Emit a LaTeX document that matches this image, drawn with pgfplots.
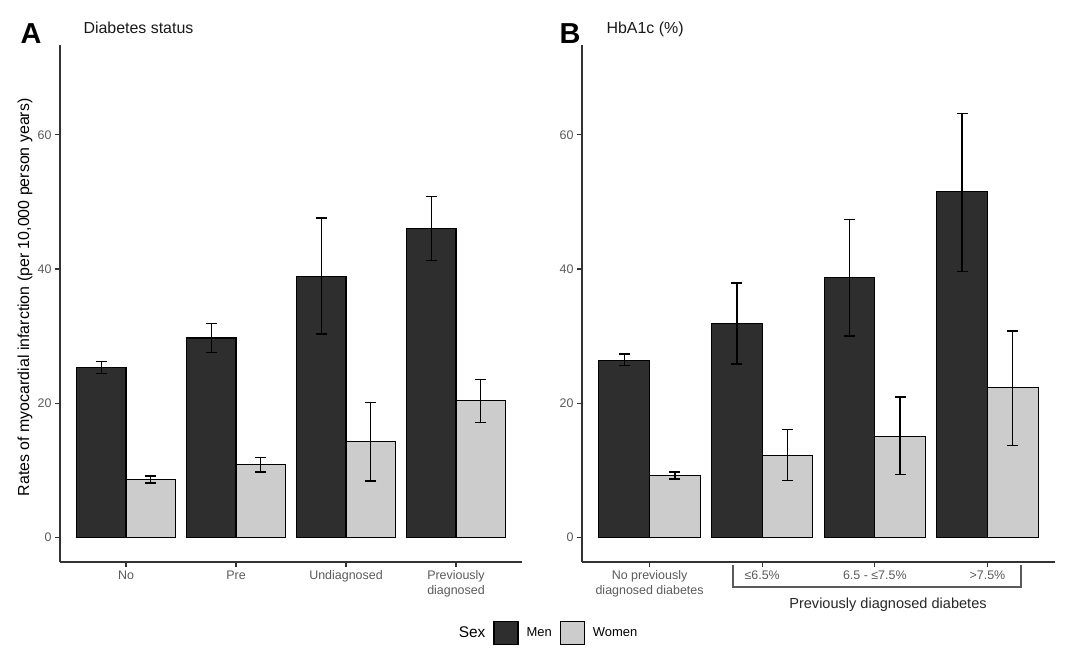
\documentclass[border=0pt]{standalone}
\usepackage{pgfplots}
\pgfplotsset{compat=1.18}
\usepackage{pgfplotstable}
\usepackage{fontspec}
\setmainfont{Liberation Sans}
\definecolor{menc}{HTML}{2E2E2E}
\definecolor{womenc}{HTML}{CCCCCC}
\definecolor{axc}{HTML}{333333}
\definecolor{tickc}{HTML}{5A5A5A}

\pgfplotstableread{
x y ep em
0.775 25.3 0.9 0.9
1.775 29.7 2.2 2.2
2.775 38.9 8.7 8.6
3.775 46.0 4.8 4.7
}\leftmen
\pgfplotstableread{
x y ep em
1.225 8.6 0.5 0.5
2.225 10.9 1.0 1.15
3.225 14.3 5.8 5.9
4.225 20.4 3.1 3.3
}\leftwomen
\pgfplotstableread{
x y ep em
0.775 26.4 0.9 0.8
1.775 31.9 6.0 6.1
2.775 38.7 8.7 8.7
3.775 51.5 11.7 11.9
}\rightmen
\pgfplotstableread{
x y ep em
1.225 9.25 0.5 0.55
2.225 12.2 3.9 3.75
3.225 15.0 5.9 5.65
4.225 22.3 8.45 8.6
}\rightwomen

\pgfplotsset{
  panel/.style={
    scale only axis,
    height=517bp,
    xmin=0.4, xmax=4.6,
    ymin=-3.7, ymax=73.4,
    axis x line*=bottom, axis y line*=left,
    axis line style={-, color=axc, line width=1.3bp},
    tick style={color=axc, line width=1.1bp},
    tick align=outside,
    major tick length=5bp,
    xtick={1,2,3,4}, ytick={0,20,40,60},
    /pgf/number format/assume math mode=true,
    ticklabel style={font=\fontsize{12.5}{15}\selectfont, text=tickc},
    xticklabel style={align=center},
    clip=false,
  },
  barstyle/.style={
    ybar, bar width=0.45, bar shift=0pt,
    draw=black, line width=1.1bp,
    /pgfplots/error bars/y dir=both,
    /pgfplots/error bars/y explicit,
    /pgfplots/error bars/error bar style={line width=1.4bp, black},
    /pgfplots/error bars/error mark options={rotate=90, mark size=5.5bp, line width=1.4bp, black},
  },
  legimg/.style={
    legend image code/.code={\draw[##1, line width=1.1bp] (0bp,-11.5bp) rectangle (24bp,11.5bp);}
  },
}

\begin{document}
\begin{tikzpicture}
\path[use as bounding box] (0bp,0bp) rectangle (1080bp,-656bp);

\begin{axis}[panel,
  at={(60bp,-562bp)}, anchor=south west,
  width=462bp,
  xticklabels={No,Pre,Undiagnosed,{Previously\\diagnosed}},
  ylabel={Rates of myocardial infarction (per 10,000 person years)},
  ylabel style={font=\fontsize{16}{19}\selectfont, at={(axis description cs:-0.0758,0.512)}, anchor=center},
  legend columns=3,
  legend style={draw=none, fill=none, at={(1.0498,-0.1373)}, anchor=center,
    /tikz/every odd column/.append style={column sep=6bp},
    /tikz/every even column/.append style={column sep=6bp},
    nodes={inner xsep=2bp, inner ysep=0bp}},
]
\addlegendimage{empty legend}
\addlegendentry{\fontsize{15.5}{18}\selectfont Sex}
\addplot[barstyle, fill=menc, legimg] table[x=x, y=y, y error plus=ep, y error minus=em] {\leftmen};
\addlegendentry{\fontsize{13}{15}\selectfont Men}
\addplot[barstyle, fill=womenc, legimg] table[x=x, y=y, y error plus=ep, y error minus=em] {\leftwomen};
\addlegendentry{\fontsize{13}{15}\selectfont Women}
\end{axis}

\begin{axis}[panel,
  at={(582bp,-562bp)}, anchor=south west,
  width=473bp,
  xticklabels={{No previously\\diagnosed diabetes},{≤6.5\%},{6.5 - ≤7.5\%},{>7.5\%}},
]
\addplot[barstyle, fill=menc] table[x=x, y=y, y error plus=ep, y error minus=em] {\rightmen};
\addplot[barstyle, fill=womenc] table[x=x, y=y, y error plus=ep, y error minus=em] {\rightwomen};
\end{axis}

\node[anchor=base west, font=\fontsize{29}{34}\selectfont\bfseries] at (17bp,-43bp) {A};
\node[anchor=base west, font=\fontsize{29}{34}\selectfont\bfseries] at (556bp,-43bp) {B};
\node[anchor=base west, font=\fontsize{16}{19}\selectfont, text=black!90] at (80bp,-33bp) {Diabetes status};
\node[anchor=base west, font=\fontsize{16}{19}\selectfont, text=black!90] at (603bp,-33bp) {HbA1c (\%)};

\draw[color=tickc, line width=1.2bp] (733bp,-565bp) -- (733bp,-587bp) -- (1021bp,-587bp) -- (1021bp,-565bp);
\node[anchor=base, font=\fontsize{14.6}{17}\selectfont, text=black!85] at (888bp,-608bp) {Previously diagnosed diabetes};
\end{tikzpicture}
\end{document}
